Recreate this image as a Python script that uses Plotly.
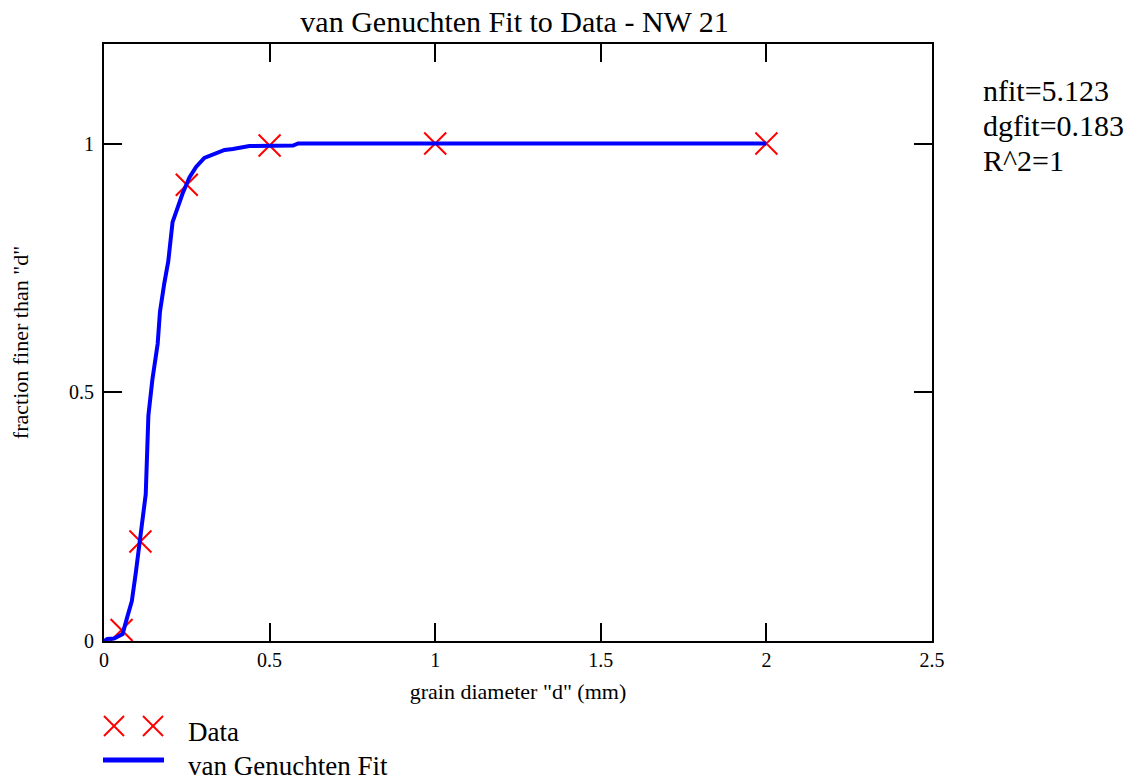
import plotly.graph_objects as go

# Measured data (grain diameter in mm, fraction finer)
data_d = [0.053, 0.11, 0.25, 0.5, 1.0, 2.0]
data_f = [0.022, 0.20, 0.917, 0.996, 1.0, 1.0]

# van Genuchten fit curve
fit_d = [0.0, 0.01, 0.03, 0.056, 0.071, 0.084, 0.096, 0.106, 0.116, 0.126, 0.134,
         0.146, 0.162, 0.169, 0.182, 0.194, 0.207, 0.222, 0.237, 0.258, 0.278,
         0.303, 0.328, 0.364, 0.389, 0.439, 0.571, 0.586, 1.0, 1.5, 2.0]
fit_f = [0.0, 0.004, 0.005, 0.014, 0.05, 0.08, 0.137, 0.187, 0.237, 0.295, 0.453,
         0.525, 0.597, 0.662, 0.719, 0.763, 0.842, 0.871, 0.899, 0.932, 0.953,
         0.971, 0.978, 0.987, 0.989, 0.995, 0.996, 1.0, 1.0, 1.0, 1.0]

x_ticks = [0, 0.5, 1, 1.5, 2, 2.5]
x_tick_text = ["0", "0.5", "1", "1.5", "2", "2.5"]
y_ticks = [0, 0.5, 1]
y_tick_text = ["0", "0.5", "1"]

series_names = ["Data", "van Genuchten Fit"]
stats_text = ["nfit=5.123", "dgfit=0.183", "R^2=1"]

FONT = "Liberation Serif, Times New Roman, serif"
RED = "#ff0000"
BLUE = "#0000ff"

# plot-area geometry in pixels (figure 1136 x 782)
L, R, T, B = 104, 932, 44, 641


def px(xp):
    return (xp - L) / (R - L)


def py(yp):
    return (B - yp) / (B - T)


fig = go.Figure()
fig.add_trace(go.Scatter(
    x=data_d, y=data_f, mode="markers", name=series_names[0],
    marker=dict(symbol="x-thin-open", size=22, color=RED,
                line=dict(color=RED, width=2)),
))
fig.add_trace(go.Scatter(
    x=fit_d, y=fit_f, mode="lines", name=series_names[1],
    line=dict(color=BLUE, width=4),
))

axis_common = dict(
    showgrid=False, zeroline=False, showline=True, linecolor="black",
    linewidth=2, mirror="allticks", ticks="inside", ticklen=18,
    tickwidth=2, tickcolor="black", automargin=False,
    tickfont=dict(family=FONT, size=20, color="black"),
)

fig.update_layout(
    width=1136, height=782,
    paper_bgcolor="white", plot_bgcolor="white",
    margin=dict(l=L, r=1136 - R, t=T, b=782 - B),
    font=dict(family=FONT, color="black"),
    title=dict(text="van Genuchten Fit to Data - NW 21",
               font=dict(family=FONT, size=30, color="black"),
               x=0.453, xanchor="center", y=0.972, yanchor="middle"),
    xaxis=dict(range=[0, 2.5], tickvals=x_ticks, ticktext=x_tick_text,
               title=dict(text='grain diameter "d" (mm)',
                          font=dict(family=FONT, size=22), standoff=14),
               **axis_common),
    yaxis=dict(range=[0, 1.2], tickvals=y_ticks, ticktext=y_tick_text,
               ticklabelstandoff=4,
               title=dict(text='fraction finer than "d"',
                          font=dict(family=FONT, size=22), standoff=34),
               **axis_common),
    showlegend=False,
)

# Legend drawn below the plot (two crosses for Data, a thick line for the fit)
shapes = []
for cx in (114, 153):
    cy, h = 726, 10
    shapes.append(dict(type="line", xref="paper", yref="paper",
                       x0=px(cx - h), y0=py(cy - h), x1=px(cx + h), y1=py(cy + h),
                       line=dict(color=RED, width=2)))
    shapes.append(dict(type="line", xref="paper", yref="paper",
                       x0=px(cx - h), y0=py(cy + h), x1=px(cx + h), y1=py(cy - h),
                       line=dict(color=RED, width=2)))
shapes.append(dict(type="line", xref="paper", yref="paper",
                   x0=px(103), y0=py(760), x1=px(164), y1=py(760),
                   line=dict(color=BLUE, width=5)))
fig.update_layout(shapes=shapes)

for name, yy in zip(series_names, (732, 766)):
    fig.add_annotation(
        text=name, xref="paper", yref="paper", x=px(186), y=py(yy),
        xanchor="left", yanchor="middle", showarrow=False,
        font=dict(family=FONT, size=27, color="black"),
    )

for txt, yy in zip(stats_text, (90, 125, 160)):
    fig.add_annotation(
        text=txt, xref="paper", yref="paper",
        x=px(981), y=py(yy), xanchor="left", yanchor="middle", align="left",
        showarrow=False, font=dict(family=FONT, size=30, color="black"),
    )

fig.write_html("out.html")
